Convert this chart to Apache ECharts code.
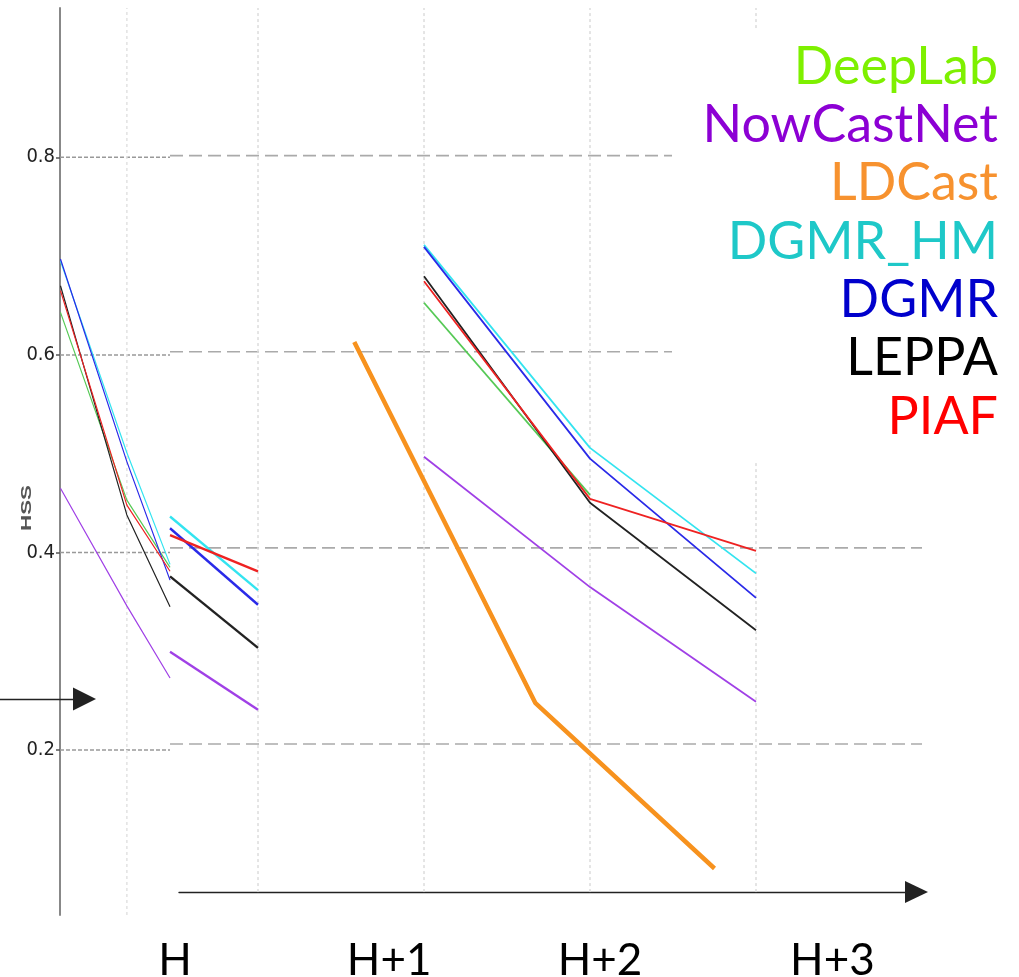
<!DOCTYPE html>
<html>
<head>
<meta charset="utf-8">
<script src="https://cdn.jsdelivr.net/npm/echarts@6/dist/echarts.min.js"></script>
<style>
  html, body { margin: 0; padding: 0; background: #ffffff; }
  #chart { width: 1019px; height: 977px; }
</style>
</head>
<body>
<div id="chart"></div>
<script>
// Models, in legend order
const models = ['DeepLab', 'NowCastNet', 'LDCast', 'DGMR_HM', 'DGMR', 'LEPPA', 'PIAF'];
const legendColors = ['#7ef000', '#8c00d4', '#f7922f', '#1ec8c8', '#0000cc', '#000000', '#ff0000'];
const lineColors = ['#55c955', '#a040e6', '#f7921e', '#33e4f0', '#2a2ae8', '#222222', '#ee2222'];

// Lead-time positions (x axis units) for each panel
const stepsH = [-1.19, -0.79, -0.53];
const stepsBridge = [-0.53, 0];
const stepsMain = [1, 2, 3];
const stepsLDCast = [0.58, 1.67, 2.75];

// HSS values, left panel (left axis)
const deepLabH = [0.643, 0.453, 0.385];
const nowCastNetH = [0.465, 0.346, 0.273];
const dgmrHmH = [0.695, 0.501, 0.388];
const dgmrH = [0.697, 0.492, 0.372];
const leppaH = [0.670, 0.438, 0.345];
const piafH = [0.665, 0.448, 0.381];

// HSS values, short bridge segment
const nowCastNetBridge = [0.294, 0.235];
const dgmrHmBridge = [0.432, 0.357];
const dgmrBridge = [0.420, 0.342];
const leppaBridge = [0.371, 0.298];
const piafBridge = [0.413, 0.376];

// HSS values, main panel
const deepLabMain = [0.650, 0.454, null];
const nowCastNetMain = [0.493, 0.360, 0.243];
const dgmrHmMain = [0.709, 0.502, 0.374];
const dgmrMain = [0.707, 0.491, 0.349];
const leppaMain = [0.677, 0.446, 0.316];
const piafMain = [0.672, 0.450, 0.397];
const ldCast = [0.610, 0.242, 0.073];

// Axis ticks and labels
const yTicks = [0.2, 0.4, 0.6, 0.8];
const tickLabels = ['H', 'H+1', 'H+2', 'H+3'];
const tickLabelPos = [-0.5, 0.79, 2.06, 3.46];
const leftGridX = [-0.79];
const mainGridX = [0, 1, 2, 3];

// Axis extents
const xMin = -1.1928, xMax = 4, panelSplit = -0.53;
const yLeftMin = 0.0331, yLeftMax = 0.9511;
const yMainMin = 0.0256, yMainMax = 0.9506, yMainFloor = 0.049;

const pair = (xs, ys) => xs.map((x, i) => [x, ys[i] == null ? '-' : ys[i]]);

function labelFor(v) {
  let best = 0;
  tickLabelPos.forEach((p, i) => {
    if (Math.abs(p - v) < Math.abs(tickLabelPos[best] - v)) best = i;
  });
  return tickLabels[best];
}

function modelLine(name, xs, ys, yAxisIndex, width) {
  const idx = models.indexOf(name);
  return {
    name: name, type: 'line', xAxisIndex: 0, yAxisIndex: yAxisIndex,
    data: pair(xs, ys), symbol: 'none', silent: true, z: 3,
    lineStyle: { color: lineColors[idx], width: width }
  };
}

function guide(data, yAxisIndex, style) {
  return {
    type: 'line', xAxisIndex: 0, yAxisIndex: yAxisIndex, data: data,
    symbol: 'none', silent: true, z: 1, lineStyle: style
  };
}

const series = [];

// horizontal reference lines
yTicks.forEach(v => {
  series.push(guide([[xMin, v], [panelSplit, v]], 0, { color: '#999', width: 1.5, type: [4, 2] }));
  series.push(guide([[panelSplit, v], [xMax, v]], 1, { color: '#aaaaaa', width: 1.6, type: [13, 6] }));
});
// vertical reference lines
leftGridX.forEach(x => {
  series.push(guide([[x, yLeftMin], [x, yLeftMax]], 0, { color: '#e2e2e2', width: 1.5, type: [3, 3] }));
});
mainGridX.forEach(x => {
  series.push(guide([[x, yMainFloor], [x, yMainMax]], 1, { color: '#dcdcdc', width: 1.5, type: [3, 3] }));
});

// left panel
series.push(modelLine('DeepLab', stepsH, deepLabH, 0, 1.2));
series.push(modelLine('NowCastNet', stepsH, nowCastNetH, 0, 1.2));
series.push(modelLine('DGMR_HM', stepsH, dgmrHmH, 0, 1.2));
series.push(modelLine('DGMR', stepsH, dgmrH, 0, 1.2));
series.push(modelLine('LEPPA', stepsH, leppaH, 0, 1.2));
series.push(modelLine('PIAF', stepsH, piafH, 0, 1.2));

// bridge segment
series.push(modelLine('NowCastNet', stepsBridge, nowCastNetBridge, 1, 2.4));
series.push(modelLine('DGMR_HM', stepsBridge, dgmrHmBridge, 1, 2.4));
series.push(modelLine('DGMR', stepsBridge, dgmrBridge, 1, 2.4));
series.push(modelLine('LEPPA', stepsBridge, leppaBridge, 1, 2.4));
series.push(modelLine('PIAF', stepsBridge, piafBridge, 1, 2.4));

// main panel
series.push(modelLine('DeepLab', stepsMain, deepLabMain, 1, 1.8));
series.push(modelLine('NowCastNet', stepsMain, nowCastNetMain, 1, 1.8));
series.push(modelLine('LDCast', stepsLDCast, ldCast, 1, 4.5));
series.push(modelLine('DGMR_HM', stepsMain, dgmrHmMain, 1, 1.8));
series.push(modelLine('DGMR', stepsMain, dgmrMain, 1, 1.8));
series.push(modelLine('LEPPA', stepsMain, leppaMain, 1, 1.8));
series.push(modelLine('PIAF', stepsMain, piafMain, 1, 1.8));

// right-aligned coloured legend on a white card
const legendGraphics = [{
  type: 'rect', z: 10, silent: true,
  shape: { x: 672, y: 30, width: 347, height: 430 },
  style: { fill: '#ffffff' }
}].concat(models.map((m, i) => ({
  type: 'text', z: 11, silent: true,
  x: 998, y: 67 + i * 58.3,
  style: {
    text: m, fill: legendColors[i], align: 'right', verticalAlign: 'middle',
    font: '52px Lato'
  }
})));

const arrowAxis = (gridIndex, size) => ({
  gridIndex: gridIndex, type: 'value', min: 0, max: 1,
  axisLine: {
    show: true, onZero: false, symbol: ['none', 'triangle'], symbolSize: size,
    lineStyle: { color: '#222', width: 1.4 }
  },
  axisTick: { show: false }, axisLabel: { show: false }, splitLine: { show: false }
});

const option = {
  animation: false,
  backgroundColor: '#ffffff',
  grid: [
    { left: 60, top: 8, width: 862, height: 907, outerBoundsMode: 'none' },
    { left: 179, top: 891, width: 737.5, height: 1, outerBoundsMode: 'none' },
    { left: 0, top: 698, width: 84.5, height: 1, outerBoundsMode: 'none' }
  ],
  xAxis: [
    {
      gridIndex: 0, type: 'value', min: xMin, max: xMax, position: 'bottom',
      axisLine: { show: false, onZero: false }, axisTick: { show: false }, splitLine: { show: false },
      axisLabel: {
        customValues: tickLabelPos,
        formatter: v => labelFor(v),
        fontFamily: 'Lato', fontSize: 44, color: '#000', margin: 24
      }
    },
    arrowAxis(1, [22, 23]),
    arrowAxis(2, [23, 23])
  ],
  yAxis: [
    {
      gridIndex: 0, type: 'value', min: yLeftMin, max: yLeftMax, position: 'left',
      axisLine: { show: true, onZero: false, lineStyle: { color: '#888', width: 2 } },
      axisTick: { show: true, customValues: yTicks, length: 4, lineStyle: { color: '#555', width: 1.5 } },
      axisLabel: {
        customValues: yTicks, formatter: v => v.toFixed(1),
        fontFamily: '"Liberation Sans Narrow", "DejaVu Sans Condensed", "Liberation Sans", sans-serif',
        fontSize: 20, color: '#222', margin: 5
      },
      splitLine: { show: false }
    },
    { gridIndex: 0, type: 'value', min: yMainMin, max: yMainMax, show: false, splitLine: { show: false } },
    { gridIndex: 1, type: 'value', min: 0, max: 1, show: false },
    { gridIndex: 2, type: 'value', min: 0, max: 1, show: false }
  ],
  graphic: legendGraphics.concat([{
    type: 'text', silent: true, x: 27, y: 508, rotation: Math.PI / 2, scaleX: 1.6,
    style: {
      text: 'HSS', fill: '#555', align: 'center', verticalAlign: 'middle',
      font: 'bold 14px "Liberation Sans"'
    }
  }]),
  series: series
};

const chart = echarts.init(document.getElementById('chart'), null, { renderer: 'canvas' });
chart.setOption(option);
</script>
</body>
</html>
